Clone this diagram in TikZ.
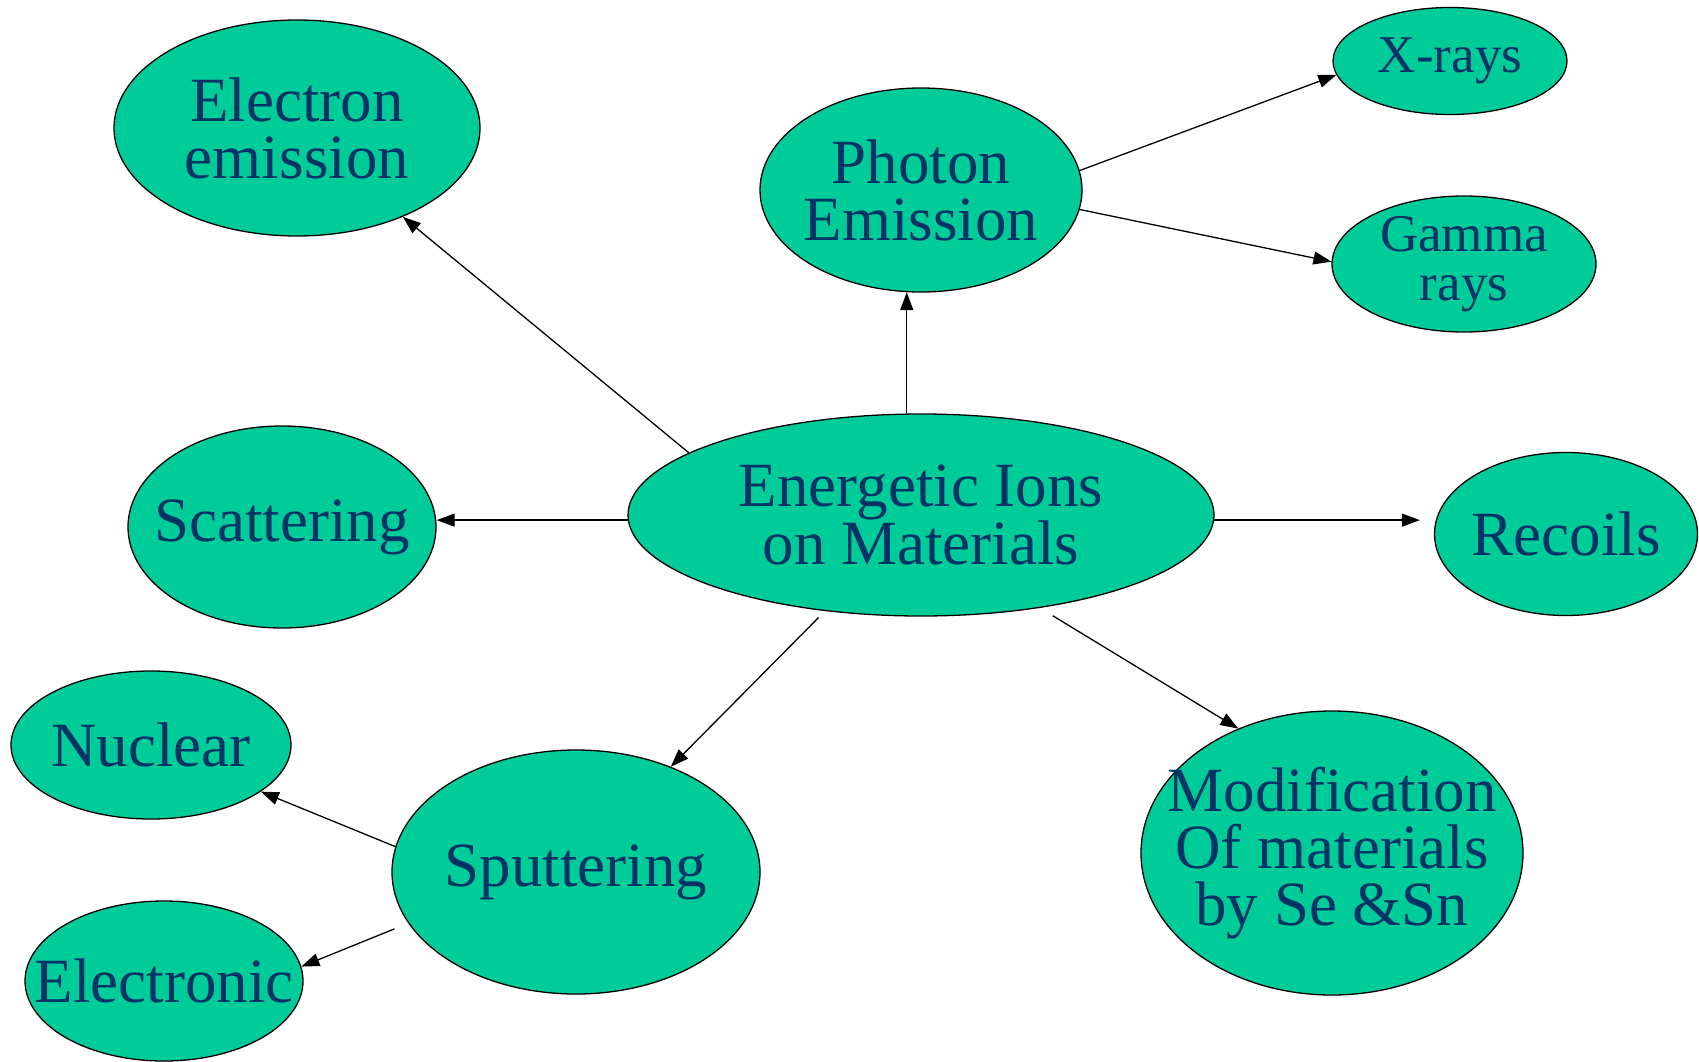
\documentclass[tikz,border=0pt]{standalone}
\usepackage{fontspec}
\setmainfont{Liberation Serif}
\usetikzlibrary{shapes.geometric,arrows.meta}
\definecolor{bubfill}{HTML}{00CC99}
\definecolor{bubtext}{HTML}{003366}
\begin{document}
\begin{tikzpicture}[x=1pt,y=-1pt,
  bub/.style={ellipse, draw=black, line width=1.3pt, fill=bubfill, text=bubtext,
    align=center, inner xsep=-40pt, inner ysep=-10pt,
    font=\fontsize{63}{57}\selectfont},
  smallbub/.style={bub, font=\fontsize{53}{49}\selectfont},
  conn/.style={line width=1.3pt, -{Triangle[length=18pt,width=13pt]}}]
\useasboundingbox (0,0) rectangle (1699,1062);

\node[bub, minimum width=586pt, minimum height=202pt] (ion) at (921,515) {Energetic Ions\\on Materials};
\node[bub, minimum width=366pt, minimum height=216pt] (elec) at (297,128) {Electron\\emission};
\node[bub, minimum width=322pt, minimum height=204pt] (ph) at (921,190) {Photon\\Emission};
\node[smallbub, minimum width=234pt, minimum height=107pt] (xr) at (1450,61) {X-rays};
\node[smallbub, minimum width=264pt, minimum height=136pt] (gam) at (1464,264) {Gamma\\rays};
\node[bub, minimum width=308pt, minimum height=202pt] (sc) at (282,527) {Scattering};
\node[bub, minimum width=263pt, minimum height=163pt] (rec) at (1566,534) {Recoils};
\node[bub, minimum width=280pt, minimum height=148pt] (nuc) at (151,745) {Nuclear};
\node[bub, minimum width=278pt, minimum height=160pt] (elc) at (164,981) {Electronic};
\node[bub, minimum width=368pt, minimum height=244pt] (sp) at (576,872) {Sputtering};
\node[bub, minimum width=382pt, minimum height=284pt] (mod) at (1332,853) {Modification\\Of materials\\by Se \&Sn};

\draw[conn] (ion.165) -- (elec.-40);
\draw[conn] (ion.98) -- (ion.98 |- ph.-98);
\draw[conn] (ph.7) -- (xr.-173);
\draw[conn] (ph.-7) -- (gam.179);
\draw[conn] (ion.181) -- (ion.181 -| sc.east);
\draw[conn, shorten >=14pt] (ion.-1) -- (ion.-1 -| rec.west);
\draw[conn, shorten <=9pt] (ion.-135) -- (sp.48);
\draw[conn, shorten <=15pt] (ion.-38) -- (mod.127);
\draw[conn] (sp.172) -- (nuc.-23);
\draw[conn, shorten <=15pt] (sp.-163) -- (elc.6);
\end{tikzpicture}
\end{document}
